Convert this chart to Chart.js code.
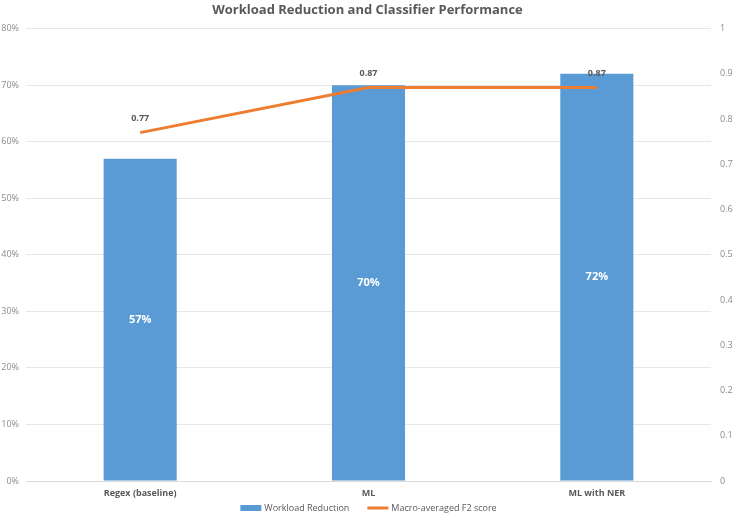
<!DOCTYPE html>
<html>
<head>
<meta charset="utf-8">
<script src="https://cdn.jsdelivr.net/npm/chart.js@4"></script>
<style>
  html, body { margin: 0; padding: 0; background: #fff; }
  #wrap { width: 735px; height: 521px; }
</style>
</head>
<body>
<div id="wrap"><canvas id="chart" width="735" height="521"></canvas></div>
<script>
// Dados
const categories = ['Regex (baseline)', 'ML', 'ML with NER'];
const workloadReduction = [57, 70, 72];
const f2Scores = [0.77, 0.87, 0.87];
const leftTicks = [0, 10, 20, 30, 40, 50, 60, 70, 80];
const rightTicks = [0, 0.1, 0.2, 0.3, 0.4, 0.5, 0.6, 0.7, 0.8, 0.9, 1];

const fontFamily = "'Open Sans', 'Noto Sans', sans-serif";
const barColor = '#5b9bd5';
const lineColor = '#ed7d31';

// Rótulos de dados
const valueLabels = {
    id: 'valueLabels',
    afterDatasetsDraw(chart) {
        const ctx = chart.ctx;
        ctx.save();
        ctx.textAlign = 'center';
        ctx.textBaseline = 'middle';
        chart.getDatasetMeta(0).data.forEach(function(bar, i) {
            ctx.font = 'bold 11px ' + fontFamily;
            ctx.fillStyle = '#ffffff';
            ctx.fillText(workloadReduction[i] + '%', bar.x, (bar.y + bar.base) / 2);
        });
        chart.getDatasetMeta(1).data.forEach(function(pt, i) {
            ctx.font = 'bold 9px ' + fontFamily;
            ctx.fillStyle = '#595959';
            ctx.fillText(f2Scores[i].toFixed(2), pt.x, pt.y - 14);
        });
        ctx.restore();
    }
};

// Legenda desenhada à mão (estilo Excel)
const bottomLegend = {
    id: 'bottomLegend',
    afterDraw(chart) {
        const ctx = chart.ctx;
        const items = chart.data.datasets.map(d => d.label);
        ctx.save();
        ctx.font = '9px ' + fontFamily;
        ctx.textBaseline = 'middle';
        const symW = 21, gapSym = 3, gapItem = 18;
        const widths = items.map(t => symW + gapSym + ctx.measureText(t).width);
        const total = widths.reduce((a, b) => a + b, 0) + gapItem;
        let x = (chart.chartArea.left + chart.chartArea.right) / 2 - total / 2;
        const y = 508;
        items.forEach(function(t, i) {
            if (i === 0) {
                ctx.fillStyle = barColor;
                ctx.fillRect(x, y - 3, symW, 6);
            } else {
                ctx.strokeStyle = lineColor;
                ctx.lineWidth = 3;
                ctx.beginPath();
                ctx.moveTo(x, y);
                ctx.lineTo(x + symW, y);
                ctx.stroke();
            }
            ctx.fillStyle = '#595959';
            ctx.fillText(t, x + symW + gapSym, y);
            x += widths[i] + gapItem;
        });
        ctx.restore();
    }
};

const ctx = document.getElementById('chart').getContext('2d');
new Chart(ctx, {
    data: {
        labels: categories,
        datasets: [{
            type: 'bar',
            label: 'Workload Reduction',
            data: workloadReduction,
            backgroundColor: barColor,
            yAxisID: 'y',
            barPercentage: 0.32,
            categoryPercentage: 1,
            order: 2
        }, {
            type: 'line',
            label: 'Macro-averaged F2 score',
            data: f2Scores,
            borderColor: lineColor,
            backgroundColor: lineColor,
            borderWidth: 3,
            pointRadius: 0,
            yAxisID: 'y1',
            order: 1
        }]
    },
    options: {
        responsive: false,
        animation: false,
        layout: { padding: { left: 0, right: 0, top: 0, bottom: 21 } },
        plugins: {
            title: {
                display: true,
                text: 'Workload Reduction and Classifier Performance',
                color: '#595959',
                font: { family: fontFamily, size: 13, weight: 'bold' },
                padding: { top: 2, bottom: 11 }
            },
            legend: { display: false },
            tooltip: { enabled: false }
        },
        scales: {
            x: {
                afterFit: function(axis) { axis.height = 19; },
                grid: { display: false, drawTicks: false },
                border: { color: '#d9d9d9' },
                ticks: { color: '#595959', font: { family: fontFamily, size: 9, weight: 'bold' }, padding: 7 }
            },
            y: {
                position: 'left',
                min: 0,
                max: 80,
                afterFit: function(axis) { axis.width = 26; },
                afterBuildTicks: function(axis) { axis.ticks = leftTicks.map(v => ({ value: v })); },
                ticks: {
                    color: '#8c8c8c',
                    font: { family: fontFamily, size: 9 },
                    callback: v => v + '%',
                    padding: 7
                },
                grid: { color: '#e6e6e6', drawTicks: false },
                border: { display: false }
            },
            y1: {
                position: 'right',
                min: 0,
                max: 1,
                afterFit: function(axis) { axis.width = 24; },
                afterBuildTicks: function(axis) { axis.ticks = rightTicks.map(v => ({ value: v })); },
                ticks: {
                    color: '#8c8c8c',
                    font: { family: fontFamily, size: 9 },
                    callback: v => String(Math.round(v * 10) / 10),
                    padding: 9
                },
                grid: { display: false, drawTicks: false },
                border: { display: false }
            }
        }
    },
    plugins: [valueLabels, bottomLegend]
});
</script>
</body>
</html>
